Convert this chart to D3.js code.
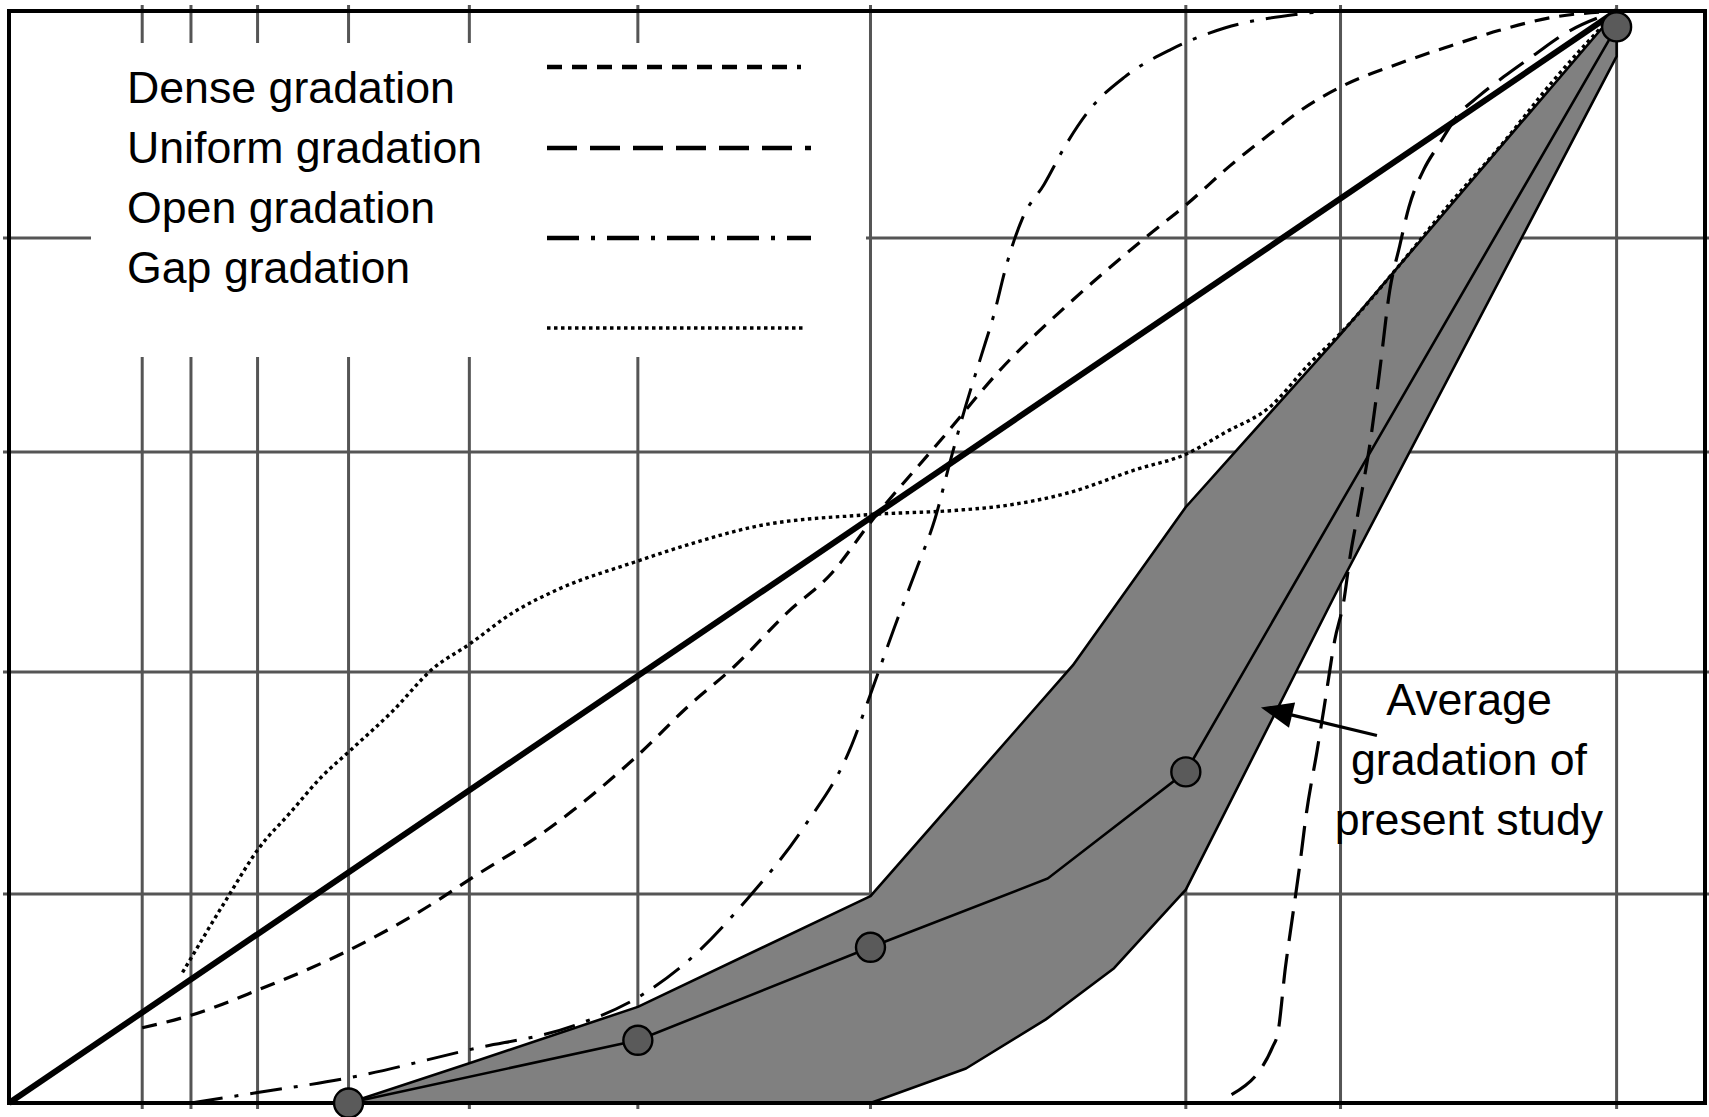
<!DOCTYPE html>
<html>
<head>
<meta charset="utf-8">
<script src="https://cdn.jsdelivr.net/npm/d3@7"></script>
<style>
  html, body { margin: 0; padding: 0; background: #fff; }
  svg { display: block; }
  text { font-family: "Liberation Sans", Arial, Helvetica, sans-serif; fill: #000; }
</style>
</head>
<body>
<svg id="chart" width="1709" height="1117"></svg>
<script>
// ---------------- DATA ----------------
// Sieve sizes (mm) of the vertical grid lines (0.45 power chart)
const sieveSizes = [0.075, 0.15, 0.3, 0.6, 1.18, 2.36, 4.75, 9.5, 12.5, 19];
// Percent passing levels of the horizontal grid lines
const passingLevels = [0, 20, 40, 60, 80, 100];
const passingGrid = [20, 40, 60, 80];
const maxSize = 21.4;

// Maximum density line
const maxDensitySizes = [0, 19];
const maxDensityPassing = [0, 100];

// Dense gradation (short dash)
const denseSizes   = [0.075, 0.15, 0.3, 0.6, 1.0, 1.18, 1.65, 2.36, 2.81, 3.24, 3.79, 4.29, 4.75, 5.64, 6.52, 7.46, 8.83, 9.5, 10.32, 11.17, 11.67, 12.5, 13.77, 14.89, 16.06, 17.29, 19];
const densePassing = [7.2, 8.4, 10.8, 14.6, 19.3, 21.3, 25.6, 32.5, 37.0, 40.5, 45.4, 49.0, 53.6, 61.0, 67.9, 73.5, 80.2, 82.9, 86.4, 89.5, 91.2, 93.3, 95.4, 96.9, 98.3, 99.4, 100];

// Uniform gradation (long dash)
const uniformSizes   = [10.34, 11.13, 11.23, 11.38, 11.52, 11.66, 11.80, 12.02, 12.16, 12.38, 12.57, 12.69, 12.90, 13.12, 13.33, 13.55, 13.77, 13.97, 14.30, 14.64, 15.10, 15.57, 16.16, 16.89, 17.71, 19];
const uniformPassing = [0.8, 5.4, 6.7, 13.0, 17.8, 22.4, 27.3, 33.0, 36.8, 42.9, 46.5, 50.2, 55.2, 60.7, 67.5, 75.1, 79.3, 82.7, 86.0, 88.2, 90.9, 92.5, 94.2, 96.1, 98.1, 100];

// Open gradation (dash-dot)
const openSizes   = [0.15, 0.3, 0.6, 1.18, 1.86, 2.36, 2.81, 3.36, 3.97, 4.50, 4.75, 5.05, 5.34, 5.58, 5.78, 6.00, 6.22, 6.39, 6.58, 6.82, 7.14, 7.48, 7.86, 8.44, 9.23, 10.21, 11.6, 12.0];
const openPassing = [0, 1.0, 2.4, 5.1, 7.4, 10.1, 13.7, 19.4, 26.0, 33.0, 38.0, 44.1, 49.5, 54.0, 59.1, 64.4, 69.1, 72.7, 77.5, 81.8, 84.7, 88.2, 91.3, 94.2, 96.6, 98.5, 99.7, 99.9];

// Gap gradation (dotted)
const gapSizes   = [0.135, 0.226, 0.303, 0.394, 0.497, 0.61, 0.788, 0.982, 1.178, 1.443, 1.744, 2.335, 2.908, 3.438, 4.717, 5.872, 6.524, 7.527, 8.626, 9.5, 10.21, 11.07, 11.87, 12.5, 13.77, 14.89, 16.06, 17.41, 19];
const gapPassing = [12.5, 19.7, 24.1, 27.3, 30.5, 33.0, 36.5, 40.3, 42.5, 45.4, 47.5, 50.0, 51.9, 53.2, 54.3, 54.7, 55.1, 56.3, 58.4, 59.8, 61.8, 64.2, 68.3, 71.1, 77.5, 83.0, 88.0, 94.0, 100];

// Band of present study: upper and lower limits
const upperSizes   = [0.6, 1.18, 2.36, 4.75, 7.59, 9.5, 12.5, 19];
const upperPassing = [0, 3.8, 9.2, 19.8, 40.6, 55.0, 71.0, 100];
const lowerSizes   = [0.6, 4.75, 6.0, 7.17, 8.26, 9.5, 12.5, 19];
const lowerPassing = [0, 0, 3.3, 8.0, 12.9, 20.4, 48.0, 96.0];

// Average gradation of present study
const avgSizes   = [0.6, 2.36, 4.75, 7.2, 9.5, 12.5, 19];
const avgPassing = [0, 6.0, 14.9, 21.4, 31.0, 55.3, 98.6];
const avgMarked  = [true, true, true, false, true, false, true];

const legendLabels = ["Dense gradation", "Uniform gradation", "Open gradation", "Gap gradation"];
const annotationLines = ["Average", "gradation of", "present study"];
const annotationTarget = [10.9, 36.8];

// ---------------- DRAWING ----------------
const frame = { left: 9, right: 1705, top: 11, bottom: 1103 };
const svg = d3.select("#chart");

const x = d3.scalePow().exponent(0.45).domain([0, maxSize]).range([frame.left, frame.right]);
const y = d3.scaleLinear().domain(passingLevels).range([1103, 894, 672, 452, 238, 11]);

const zip = (a, b) => a.map((v, i) => [v, b[i]]);
const gridColor = "#555";

// grid
const grid = svg.append("g");
grid.selectAll("line.v").data(sieveSizes).join("line")
  .attr("x1", d => x(d)).attr("x2", d => x(d))
  .attr("y1", frame.top - 6).attr("y2", frame.bottom + 6)
  .attr("stroke", gridColor).attr("stroke-width", 3);
grid.selectAll("line.h").data(passingGrid).join("line")
  .attr("x1", frame.left - 6).attr("x2", 1709)
  .attr("y1", d => y(d)).attr("y2", d => y(d))
  .attr("stroke", gridColor).attr("stroke-width", 3);

// legend background (hides grid)
svg.append("rect").attr("x", 91).attr("y", 43).attr("width", 775).attr("height", 314).attr("fill", "#fff");

// band
const band = zip(upperSizes, upperPassing).concat(zip(lowerSizes, lowerPassing).reverse());
const lineLin = d3.line().x(d => x(d[0])).y(d => y(d[1]));
svg.append("path").attr("d", lineLin(band) + "Z")
  .attr("fill", "#808080").attr("stroke", "#000").attr("stroke-width", 2.6).attr("stroke-linejoin", "round");

// average line
const avgData = zip(avgSizes, avgPassing);
svg.append("path").attr("d", lineLin(avgData))
  .attr("fill", "none").attr("stroke", "#000").attr("stroke-width", 2.6);

// frame
svg.append("rect").attr("x", frame.left).attr("y", frame.top)
  .attr("width", frame.right - frame.left).attr("height", frame.bottom - frame.top)
  .attr("fill", "none").attr("stroke", "#000").attr("stroke-width", 4);

// curves
const lineCurve = d3.line().x(d => x(d[0])).y(d => y(d[1])).curve(d3.curveMonotoneX);
const series = [
  { data: zip(denseSizes, densePassing), dash: "15,10", w: 3.2 },
  { data: zip(uniformSizes, uniformPassing), dash: "30,13", w: 3.2 },
  { data: zip(openSizes, openPassing), dash: "32,12,4,12", w: 3 },
  { data: zip(gapSizes, gapPassing), dash: "3.5,3.5", w: 3.4 }
];
svg.append("g").selectAll("path").data(series).join("path")
  .attr("d", d => lineCurve(d.data))
  .attr("fill", "none").attr("stroke", "#000")
  .attr("stroke-width", d => d.w).attr("stroke-dasharray", d => d.dash);

// maximum density line
svg.append("path").attr("d", lineLin(zip(maxDensitySizes, maxDensityPassing)))
  .attr("fill", "none").attr("stroke", "#000").attr("stroke-width", 6);

// markers
svg.append("g").selectAll("circle").data(avgData.filter((d, i) => avgMarked[i])).join("circle")
  .attr("cx", d => x(d[0])).attr("cy", d => y(d[1])).attr("r", 14.5)
  .attr("fill", "#5a5a5a").attr("stroke", "#000").attr("stroke-width", 2.4);

// legend
const legendTextY = [103, 163, 223, 283];
const legendLineY = [67, 148, 238, 328];
const legendLineX2 = [801, 811, 811, 804];
svg.append("g").selectAll("text").data(legendLabels).join("text")
  .attr("x", 127).attr("y", (d, i) => legendTextY[i])
  .attr("font-size", 44.7).text(d => d);
svg.append("g").selectAll("line").data(series).join("line")
  .attr("x1", 547).attr("x2", (d, i) => legendLineX2[i])
  .attr("y1", (d, i) => legendLineY[i]).attr("y2", (d, i) => legendLineY[i])
  .attr("stroke", "#000").attr("stroke-width", (d, i) => i === 3 ? 3.4 : 4.5)
  .attr("stroke-dasharray", d => d.dash);

// annotation
const tip = [x(annotationTarget[0]), y(annotationTarget[1])];
const tail = [tip[0] + 116, tip[1] + 28];
const len = Math.hypot(tail[0] - tip[0], tail[1] - tip[1]);
const ux = (tail[0] - tip[0]) / len, uy = (tail[1] - tip[1]) / len;
const headLen = 32, headHalf = 13;
const base = [tip[0] + ux * headLen, tip[1] + uy * headLen];
svg.append("line").attr("x1", base[0] - ux * 4).attr("y1", base[1] - uy * 4)
  .attr("x2", tail[0]).attr("y2", tail[1]).attr("stroke", "#000").attr("stroke-width", 3.2);
svg.append("path").attr("d", d3.line()([tip,
    [base[0] - uy * headHalf, base[1] + ux * headHalf],
    [base[0] + uy * headHalf, base[1] - ux * headHalf]]) + "Z")
  .attr("fill", "#000");
svg.append("g").selectAll("text").data(annotationLines).join("text")
  .attr("x", 1469).attr("y", (d, i) => 715 + i * 60)
  .attr("text-anchor", "middle").attr("font-size", 44.7).text(d => d);
</script>
</body>
</html>
